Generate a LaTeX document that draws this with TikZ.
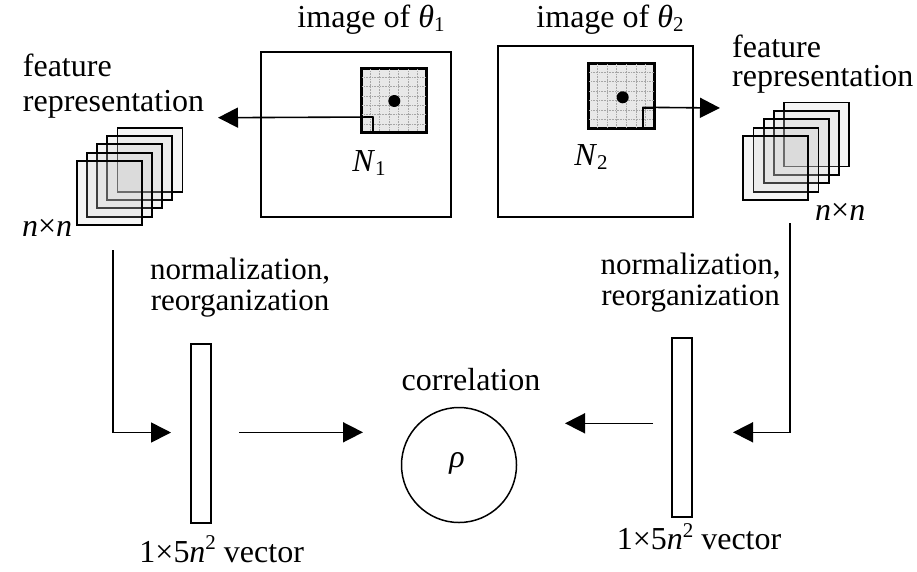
\documentclass[tikz,border=0pt]{standalone}
\usepackage{fontspec}
\setmainfont{Liberation Serif}
\usetikzlibrary{arrows.meta,calc}
\newcommand\lsub[1]{\raisebox{-0.32ex}{\fontsize{21}{21}\selectfont #1}}
\newcommand\lsup[1]{\raisebox{0.85ex}{\fontsize{21}{21}\selectfont #1}}
\begin{document}
\begin{tikzpicture}[x=1pt,y=-1pt,
  lbl/.style={inner sep=0pt, font=\fontsize{32}{36}\selectfont},
  twoline/.style={inner sep=0pt, align=center, font=\fontsize{31}{31}\selectfont},
  imgbox/.style={draw, line width=2.2pt, inner sep=0pt},
  winbox/.style={draw, line width=2.4pt, fill=gray!18, inner sep=0pt},
  cellbox/.style={draw, line width=1.4pt, inner sep=0pt},
  layer/.style={draw, line width=1.9pt, fill=gray!45, fill opacity=0.18, inner sep=0pt, minimum width=65pt, minimum height=64pt},
  vecbox/.style={draw, line width=1.8pt, inner sep=0pt, minimum width=20pt, minimum height=179pt},
  dotnode/.style={circle, fill=black, inner sep=0pt, minimum size=12pt},
  gridline/.style={gray!70, line width=0.6pt, densely dotted},
  conn/.style={line width=1.6pt, -{Triangle[length=20pt,width=20pt]}}
]
\useasboundingbox (0,0) rectangle (917,571);

% image boxes
\node[imgbox, minimum width=190pt, minimum height=165pt] (img1) at (356,134.5) {};
\node[imgbox, minimum width=195pt, minimum height=171pt] (img2) at (595.5,131.5) {};

% windows
\node[winbox, minimum width=64pt, minimum height=63pt] (win1) at (394,100.5) {};
\node[winbox, minimum width=65pt, minimum height=64pt] (win2) at (621.5,96) {};
\foreach \w in {win1,win2}{
  \foreach \k in {1,...,6}{
    \draw[gridline] ($(\w.north west)!\k/7!(\w.north east)$) -- ($(\w.south west)!\k/7!(\w.south east)$);
    \draw[gridline] ($(\w.north west)!\k/7!(\w.south west)$) -- ($(\w.north east)!\k/7!(\w.south east)$);
  }
}
\draw[line width=2.4pt] (win1.north west) rectangle (win1.south east);
\draw[line width=2.4pt] (win2.north west) rectangle (win2.south east);
\node[dotnode] (dot1) at (394.3,101) {};
\node[dotnode] (dot2) at (622.7,97.3) {};
\node[cellbox, minimum width=11pt, minimum height=14.3pt] (cell1) at (367.5,124.85) {};
\node[cellbox, minimum width=11pt, minimum height=19.7pt] (cell2) at (648.5,117.85) {};

% titles and labels
\node[lbl, anchor=base] (t1) at (371,27) {image of \textit{θ}\lsub{1}};
\node[lbl, anchor=base] (t2) at (610,27) {image of \textit{θ}\lsub{2}};
\node[lbl, anchor=base] (n1) at (369,171) {\textit{N}\lsub{1}};
\node[lbl, anchor=base] (n2) at (591,165) {\textit{N}\lsub{2}};

\node[lbl, anchor=base west] (f1a) at (22.7,76.7) {feature};
\node[lbl, anchor=base west] (f1b) at (22.7,111.7) {representation};
\node[lbl, anchor=base west] (f2a) at (732,57) {feature};
\node[lbl, anchor=base west] (f2b) at (732,86) {representation};

\node[lbl, anchor=base west] (nn1) at (22,236.7) {\textit{n}×\textit{n}};
\node[lbl, anchor=base west] (nn2) at (815,220) {\textit{n}×\textit{n}};

\node[twoline, anchor=base] (nr1) at (240,310) {normalization,\\reorganization};
\node[twoline, anchor=base] (nr2) at (690.5,305) {normalization,\\reorganization};

\node[lbl, anchor=base] (corr) at (471,390) {correlation};
\node[lbl, anchor=base] (v1) at (221.7,562) {1×5\textit{n}\lsup{2} vector};
\node[lbl, anchor=base] (v2) at (699,549.5) {1×5\textit{n}\lsup{2} vector};

% stacks
\foreach \i in {4,3,2,1,0}{
  \node[layer] (ls\i) at (109.2+10.2*\i, 192.9-8.25*\i) {};
}
\foreach \i in {4,3,2,1,0}{
  \node[layer] (rs\i) at (775.8+10.15*\i, 167.9-8.35*\i) {};
}

% vectors and correlation
\node[vecbox] (vec1) at (201,433.5) {};
\node[vecbox] (vec2) at (682,427.5) {};
\node[draw, circle, line width=1.5pt, minimum size=115pt, inner sep=0pt] (rho) at (459,465) {};
\node[lbl] (rholbl) at (457,463) {\textit{ρ}};

% connectors
\coordinate (a1) at (218,117.7);
\coordinate (a2) at (720,108);
\draw[conn] (cell1.north east) -- (a1);
\draw[conn] (cell2.north west) -- (a2);

\coordinate (c1a) at (113,250);
\coordinate (c1b) at (171,432.5);
\coordinate (c2a) at (790,223);
\coordinate (c2b) at (733,432.3);
\draw[conn] (c1a) |- (c1b);
\draw[conn] (c2a) |- (c2b);

\coordinate (m1a) at (239,432.3);
\coordinate (m1b) at (363,432.3);
\coordinate (m2a) at (653,423.3);
\coordinate (m2b) at (565,423.3);
\draw[conn] (m1a) -- (m1b);
\draw[conn] (m2a) -- (m2b);
\end{tikzpicture}
\end{document}
